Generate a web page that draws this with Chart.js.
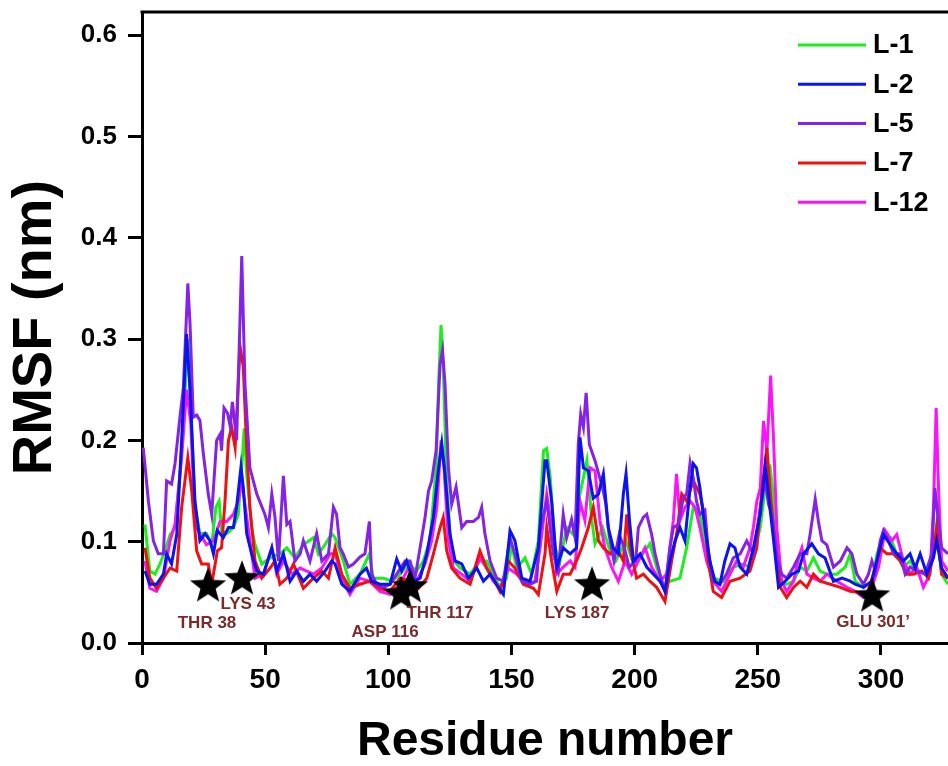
<!DOCTYPE html>
<html>
<head>
<meta charset="utf-8">
<script src="https://cdn.jsdelivr.net/npm/chart.js@4.4.1/dist/chart.umd.min.js"></script>
<style>
  body { margin: 0; background: #fff; }
  canvas { display: block; }
</style>
</head>
<body>
<canvas id="rmsf" width="948" height="766"></canvas>
<script>
// tick values
var xTicks = [0, 50, 100, 150, 200, 250, 300];
var yTicks = [0, 0.1, 0.2, 0.3, 0.4, 0.5, 0.6];

// RMSF per residue as [residue, nm]
var l1 = [[1.2,.117],[3.2,.071],[5.3,.068],[7.3,.078],[9.3,.091],[11.4,.107],[13.4,.114],[15.4,.167],[17.5,.250],[18.6,.300],[19.8,.233],[21.5,.134],[23.5,.108],[26.2,.108],[28.3,.097],[30,.134],[31.3,.140],[32.3,.111],[34.4,.108],[37.1,.114],[39.1,.127],[40.5,.174],[41.5,.212],[42.5,.167],[44.5,.114],[45.9,.097],[48.6,.078],[52,.084],[56,.088],[58.8,.094],[62.1,.084],[65.5,.097],[69.6,.104],[71.6,.088],[74.3,.097],[77,.108],[78.4,.104],[81.7,.081],[84.4,.058],[88.5,.068],[92.3,.088],[93.9,.064],[98,.064],[101.4,.061],[104.7,.068],[108.2,.078],[111.5,.071],[114.2,.081],[116.9,.101],[119.4,.173],[120.4,.256],[121.4,.314],[122.3,.272],[123.7,.157],[125.7,.084],[129.1,.074],[133.2,.068],[137.2,.081],[139.9,.081],[142.6,.068],[145.3,.055],[148,.064],[150.1,.097],[152.1,.074],[155.5,.084],[158.2,.068],[160.9,.101],[163,.190],[164.3,.192],[165.7,.164],[167.7,.094],[169.7,.081],[172.4,.114],[175.1,.107],[177.8,.147],[180.6,.180],[182.6,.121],[183.9,.098],[187,.114],[189.6,.094],[192.3,.081],[196.4,.101],[199.1,.081],[202.2,.084],[206.2,.098],[208.9,.075],[211.6,.055],[214.3,.061],[218.4,.064],[221.1,.094],[223.8,.134],[226.5,.127],[229.2,.088],[231.9,.064],[236,.061],[240,.075],[244.1,.078],[246.8,.075],[251,.114],[253.7,.167],[255,.173],[256.4,.143],[259.1,.061],[261.7,.058],[264.5,.061],[267.2,.075],[269.9,.071],[272.6,.084],[275.3,.071],[278,.068],[282.1,.068],[285.5,.075],[287.5,.088],[289.5,.061],[292.9,.055],[296.3,.061],[298.4,.088],[301,.107],[303.8,.104],[306.4,.088],[309.1,.075],[311.8,.081],[314.5,.071],[318.6,.068],[321.3,.088],[322.6,.117],[324.6,.068],[327.2,.058]];

var l2 = [[1.2,.071],[3.2,.058],[5.9,.058],[8.7,.068],[10,.088],[12,.078],[14.1,.107],[16.1,.200],[18.1,.305],[19.5,.250],[21.5,.140],[23.5,.101],[25.6,.108],[27.6,.101],[29,.088],[30.6,.111],[33,.104],[35.1,.114],[37.1,.114],[38.4,.134],[40.2,.174],[41.1,.154],[42.5,.108],[44.5,.088],[46.6,.071],[49.3,.068],[52.7,.094],[54.7,.071],[57.4,.088],[60.1,.061],[62.8,.071],[65.5,.061],[68.2,.068],[70.9,.061],[74.3,.071],[77,.081],[78.4,.078],[81.1,.058],[84.4,.051],[88.5,.068],[91.1,.074],[93.2,.061],[96.6,.058],[100.7,.058],[103.4,.083],[105.4,.071],[107.4,.081],[110.2,.061],[112.9,.064],[115.6,.088],[118.3,.124],[120.4,.173],[121.7,.197],[123,.167],[125,.108],[127.1,.081],[129.8,.078],[132.5,.064],[135.9,.074],[138.6,.061],[141.3,.068],[144.7,.055],[146.7,.048],[149.4,.111],[151.4,.101],[154.2,.064],[157.5,.061],[160.9,.094],[163.6,.180],[164.3,.180],[166.3,.140],[168.4,.075],[171,.094],[173.8,.088],[176.4,.094],[177.8,.203],[179.2,.173],[181.2,.170],[183.2,.143],[185.3,.147],[187.3,.167],[189.3,.114],[191.3,.094],[193.4,.088],[195.4,.147],[196.5,.167],[197.9,.121],[199.5,.081],[202.2,.088],[204.9,.075],[207.6,.068],[210.3,.061],[212.3,.051],[214.3,.081],[216.4,.101],[218.4,.114],[220.4,.101],[222.5,.153],[223.8,.177],[225.1,.173],[226.5,.153],[228.5,.114],[230.5,.081],[232.6,.061],[234.6,.058],[236.6,.081],[238.7,.098],[240.7,.094],[242.8,.075],[245.5,.068],[248.2,.094],[251,.127],[253,.175],[254.3,.147],[256.4,.101],[258.4,.055],[261.1,.061],[263.8,.068],[266.5,.071],[268.5,.088],[271.9,.098],[274.6,.088],[277.3,.084],[280.7,.061],[284.2,.064],[287.5,.061],[289.5,.058],[292.9,.055],[296.3,.061],[299,.088],[301,.107],[303.8,.097],[306.4,.088],[309.1,.081],[311.8,.088],[313.9,.074],[315.9,.088],[318.6,.068],[321.3,.084],[322.6,.101],[324.6,.074],[327.2,.064]];

var l5 = [[0.5,.193],[2.6,.140],[4.6,.101],[6.6,.088],[8.7,.088],[10,.160],[12,.157],[13.4,.177],[15.4,.223],[16.8,.252],[18.6,.355],[19.5,.315],[20.8,.223],[22.2,.225],[23.5,.220],[24.9,.187],[26.9,.147],[28.3,.127],[30.3,.200],[31.7,.206],[32.3,.190],[33.3,.232],[34.7,.227],[35.8,.214],[36.7,.238],[38.4,.200],[40.5,.382],[41.8,.256],[43.8,.173],[46.6,.147],[49.9,.127],[51.3,.114],[52.7,.147],[54,.124],[55.4,.081],[57.4,.165],[58.8,.117],[60.1,.120],[62.1,.081],[64.2,.088],[65.5,.101],[68.2,.081],[70.9,.108],[73,.081],[75.7,.088],[77.7,.134],[79,.127],[80.4,.094],[81.7,.088],[83.8,.075],[85.8,.078],[88.5,.085],[90.5,.088],[92.3,.120],[93.2,.068],[95.3,.058],[98,.055],[100.7,.058],[103.4,.068],[106.8,.081],[108.8,.081],[110.8,.064],[112.9,.094],[114.9,.124],[116.3,.150],[117.6,.160],[119.4,.190],[121,.275],[122,.289],[123,.256],[124.4,.173],[125.7,.137],[127.5,.154],[129.8,.114],[131.8,.120],[134.5,.120],[136.6,.124],[137.9,.134],[139.2,.108],[141.3,.081],[144,.064],[146.7,.061],[149.4,.104],[152.1,.081],[154.2,.061],[157.5,.058],[160.2,.061],[161.6,.111],[164.3,.140],[167,.088],[169,.071],[171,.127],[172.4,.104],[174.4,.122],[175.8,.104],[177.1,.196],[178.1,.226],[179.2,.213],[180.3,.247],[181.6,.196],[183.9,.180],[187,.153],[188.3,.137],[189.6,.107],[191.6,.081],[193.7,.107],[195.8,.094],[197.8,.075],[200.4,.081],[201.5,.114],[203.5,.124],[204.9,.127],[206.9,.107],[208.3,.088],[210.3,.068],[212.3,.051],[214.3,.094],[215.7,.114],[217.7,.117],[219.8,.144],[221.1,.147],[222.5,.178],[223.8,.163],[225.1,.140],[226.5,.127],[228.5,.131],[229.9,.091],[231.9,.061],[234.6,.058],[237.3,.068],[240,.084],[242.8,.088],[245.5,.101],[248.2,.088],[251,.134],[253,.160],[254.3,.137],[255.7,.127],[257.7,.084],[259.7,.068],[261.7,.064],[264.5,.075],[267.2,.088],[269.9,.088],[271.2,.107],[273.3,.142],[274.6,.120],[276,.101],[278,.097],[280.7,.075],[283.5,.081],[286.2,.094],[288.2,.088],[290.2,.068],[292.9,.058],[294.9,.068],[296.3,.081],[297.7,.071],[299.7,.101],[301,.111],[303,.101],[305.1,.088],[307.8,.088],[309.8,.068],[311.8,.075],[314.5,.071],[317.9,.068],[320.6,.088],[321.9,.153],[323.3,.120],[324.6,.094],[327.2,.088]];

var l7 = [[1.2,.094],[3.2,.064],[5.9,.054],[8.7,.064],[11.4,.074],[14.1,.071],[16.1,.134],[18.6,.183],[20.2,.150],[22.2,.091],[24.2,.078],[26.9,.078],[28.3,.058],[30.6,.091],[32.3,.094],[33.7,.140],[35.1,.200],[36.4,.213],[37.8,.193],[39.8,.293],[41.1,.273],[42.5,.193],[43.8,.134],[45.9,.081],[48.6,.064],[52,.074],[54,.081],[56,.058],[58.8,.064],[61.5,.078],[65.5,.054],[69.6,.064],[73,.071],[75.7,.064],[78.4,.094],[81.1,.068],[84.4,.054],[88.5,.058],[92.3,.061],[96.6,.054],[100.7,.051],[104.7,.064],[108.8,.061],[112.2,.054],[115.6,.064],[118.3,.088],[121,.114],[122.3,.124],[123.7,.091],[125.7,.074],[129.1,.064],[133.2,.058],[137.2,.091],[139.9,.074],[142.6,.064],[145.3,.051],[148.7,.081],[151.4,.074],[154.8,.058],[158.9,.054],[160.9,.048],[163.6,.088],[164.3,.114],[166.3,.081],[168.4,.051],[171,.068],[173.8,.068],[176.4,.081],[178.5,.094],[181.2,.114],[183.2,.134],[185.3,.101],[187.3,.094],[190,.088],[192.7,.094],[195.4,.081],[196.8,.127],[198.1,.094],[200.8,.064],[203.5,.068],[206.2,.061],[208.9,.055],[212.3,.041],[215,.081],[217,.107],[219.1,.147],[221.1,.140],[223.8,.160],[226.5,.147],[228.5,.124],[229.9,.081],[231.9,.051],[235.3,.045],[238.7,.061],[242.8,.064],[246.8,.071],[249.6,.094],[251.6,.150],[253.7,.193],[255,.150],[256.4,.114],[259.1,.055],[261.7,.045],[264.5,.055],[267.2,.061],[269.9,.055],[272.6,.068],[275.3,.061],[279.4,.058],[283.5,.055],[287.5,.051],[290.9,.050],[294.2,.048],[296.9,.068],[299.7,.094],[302.4,.088],[305.1,.088],[307.8,.081],[310.5,.068],[313.2,.068],[316.6,.071],[319.3,.064],[321.3,.088],[322.6,.114],[324.6,.068],[327.2,.064]];

var l12 = [[1.2,.081],[3.2,.054],[5.9,.051],[8.7,.064],[11.4,.101],[13.4,.117],[16.1,.183],[18.1,.250],[19.8,.217],[21.5,.117],[23.5,.108],[26.2,.097],[29,.101],[31.7,.120],[34.4,.120],[37.1,.127],[39.1,.140],[40.5,.160],[41.8,.137],[43.8,.101],[45.9,.064],[49.3,.068],[52.7,.094],[54.7,.068],[57.4,.081],[60.8,.068],[64.2,.074],[66.9,.071],[69.6,.068],[73,.074],[76.4,.088],[78.4,.088],[81.7,.061],[84.4,.048],[88.5,.064],[92.3,.061],[96.6,.051],[100.7,.048],[104.7,.058],[108.2,.074],[111.5,.061],[114.9,.078],[117.6,.101],[119.7,.134],[121.4,.200],[122.6,.173],[124.4,.101],[126.4,.074],[129.8,.068],[133.2,.061],[137.2,.084],[139.9,.074],[142.6,.061],[145.3,.054],[148.7,.074],[152.1,.068],[156.2,.058],[159.5,.061],[161.6,.094],[164.3,.147],[166.3,.114],[168.4,.068],[171,.075],[173.8,.081],[175.8,.075],[177.8,.140],[179.8,.121],[181.9,.173],[183.9,.170],[185.9,.121],[187.9,.094],[190.6,.075],[193.4,.061],[196.1,.081],[198.8,.068],[201.5,.081],[204.2,.094],[206.9,.075],[210.3,.061],[213,.068],[215.7,.121],[217,.167],[218.4,.121],[220.4,.134],[222.5,.140],[224.5,.134],[226.5,.114],[229.2,.081],[231.9,.061],[235.3,.051],[238.7,.068],[241.4,.081],[244.1,.075],[246.8,.094],[248.2,.114],[249.6,.140],[251,.153],[252.3,.219],[253.7,.190],[255.2,.264],[256.4,.200],[257.7,.114],[259.7,.061],[261.7,.051],[264.5,.061],[266.5,.084],[267.9,.094],[269.9,.068],[272.6,.064],[275.3,.061],[278,.068],[282.1,.061],[286.2,.055],[289.5,.051],[292.9,.045],[296.3,.055],[299,.075],[301.7,.111],[304.4,.101],[306.4,.107],[309.1,.081],[311.8,.068],[314.5,.075],[317.2,.055],[319.9,.068],[321.3,.134],[322.4,.232],[323.4,.150],[324.6,.081],[327.2,.071]];

var seriesNames = ['L-1', 'L-2', 'L-5', 'L-7', 'L-12'];
var seriesData = [l1, l2, l5, l7, l12];
var seriesColors = ['#19f019', '#0a14f0', '#8422e8', '#f01010', '#fa14fa'];
var seriesOrder = [4, 0, 1, 2, 3]; // lower = drawn on top

// marked residues (stars)
var starNames = ['THR 38', 'LYS 43', 'ASP 116', 'THR 117', 'LYS 187', 'GLU 301\u2019'];
var starX = [26.8, 40.6, 105.2, 108.8, 182.7, 296.4];
var starY = [0.056, 0.063, 0.048, 0.055, 0.057, 0.046];
// label offset from the star, px
var starLabelDx = [-1, 6, -16, 30, -15, 1];
var starLabelDy = [37, 25, 38, 26, 28, 26];

var FONT = "'Liberation Sans', Arial, sans-serif";

// filled black star used as point style
function makeStar(r) {
  var c = document.createElement('canvas');
  c.width = c.height = r * 2 + 2;
  var g = c.getContext('2d');
  g.fillStyle = '#000';
  g.beginPath();
  for (var i = 0; i < 10; i++) {
    var a = -Math.PI / 2 + i * Math.PI / 5;
    var rr = i % 2 ? r * 0.42 : r;
    g.lineTo(r + 1 + rr * Math.cos(a), r + 1 + rr * Math.sin(a));
  }
  g.closePath();
  g.fill();
  return c;
}
var starImg = makeStar(19);

var datasets = seriesNames.map(function (name, i) {
  return {
    label: name,
    data: seriesData[i].map(function (p) { return { x: p[0], y: p[1] }; }),
    borderColor: seriesColors[i],
    backgroundColor: seriesColors[i],
    borderWidth: 3,
    pointRadius: 0,
    tension: 0,
    order: seriesOrder[i]
  };
});
datasets.push({
  label: 'stars',
  data: starX.map(function (x, i) { return { x: x, y: starY[i] }; }),
  showLine: false,
  pointStyle: starImg,
  pointRadius: 19,
  order: -1
});

var framePlugin = {
  id: 'frame',
  beforeDatasetsDraw: function (chart) {
    var a = chart.chartArea, ctx = chart.ctx;
    ctx.save();
    ctx.strokeStyle = '#000';
    ctx.lineWidth = 3;
    ctx.beginPath();
    ctx.moveTo(a.left - 1.5, a.top);
    ctx.lineTo(a.right, a.top);
    ctx.stroke();
    ctx.restore();
  }
};

var starLabelPlugin = {
  id: 'starLabels',
  afterDatasetsDraw: function (chart) {
    var meta = chart.getDatasetMeta(seriesNames.length), ctx = chart.ctx;
    ctx.save();
    ctx.font = 'bold 17px ' + FONT;
    ctx.fillStyle = '#7a2a2a';
    ctx.textAlign = 'center';
    ctx.textBaseline = 'middle';
    meta.data.forEach(function (pt, i) {
      ctx.fillText(starNames[i], pt.x + starLabelDx[i], pt.y + starLabelDy[i]);
    });
    ctx.restore();
  }
};

var legendPlugin = {
  id: 'sideLegend',
  afterDraw: function (chart) {
    var a = chart.chartArea, ctx = chart.ctx;
    var x0 = a.right - 150, y0 = a.top + 33, step = 39.3;
    ctx.save();
    ctx.font = 'bold 27px ' + FONT;
    ctx.textBaseline = 'middle';
    ctx.fillStyle = '#000';
    seriesNames.forEach(function (name, i) {
      var y = y0 + i * step;
      ctx.strokeStyle = seriesColors[i];
      ctx.lineWidth = 3;
      ctx.beginPath();
      ctx.moveTo(x0, y);
      ctx.lineTo(x0 + 68, y);
      ctx.stroke();
      ctx.fillText(name, x0 + 75, y + 1);
    });
    ctx.restore();
  }
};

new Chart(document.getElementById('rmsf').getContext('2d'), {
  type: 'line',
  data: { datasets: datasets },
  plugins: [framePlugin, starLabelPlugin, legendPlugin],
  options: {
    responsive: false,
    animation: false,
    layout: { autoPadding: false, padding: { top: 12, left: 0, right: 0, bottom: 0 } },
    plugins: { legend: { display: false }, tooltip: { enabled: false } },
    scales: {
      x: {
        type: 'linear',
        min: 0,
        max: 327.2,
        afterFit: function (s) { s.height = 123; s.paddingLeft = 0; s.paddingRight = 0; },
        afterBuildTicks: function (s) { s.ticks = xTicks.map(function (v) { return { value: v }; }); },
        border: { display: true, color: '#000', width: 3 },
        grid: { display: true, drawOnChartArea: false, drawTicks: true, tickLength: 12, color: '#000', lineWidth: 3 },
        ticks: {
          maxRotation: 0,
          autoSkip: false,
          padding: 8,
          color: '#000',
          font: { family: FONT, size: 28, weight: 'bold' }
        },
        title: {
          display: true,
          text: 'Residue number',
          color: '#000',
          padding: { top: 0, bottom: 0 },
          font: { family: FONT, size: 48, weight: 'bold', lineHeight: 1 }
        }
      },
      y: {
        min: 0,
        max: 0.623,
        afterFit: function (s) { s.width = 142; s.paddingTop = 0; s.paddingBottom = 0; },
        afterBuildTicks: function (s) { s.ticks = yTicks.map(function (v) { return { value: v }; }); },
        border: { display: true, color: '#000', width: 3 },
        grid: { display: true, drawOnChartArea: false, drawTicks: true, tickLength: 14, color: '#000', lineWidth: 3 },
        ticks: {
          padding: 11,
          color: '#000',
          callback: function (v) { return v.toFixed(1); },
          font: { family: FONT, size: 26, weight: 'bold' }
        },
        title: {
          display: true,
          text: 'RMSF (nm)',
          color: '#000',
          padding: { top: 8, bottom: 0 },
          font: { family: FONT, size: 56, weight: 'bold', lineHeight: 1 }
        }
      }
    }
  }
});
</script>
</body>
</html>
